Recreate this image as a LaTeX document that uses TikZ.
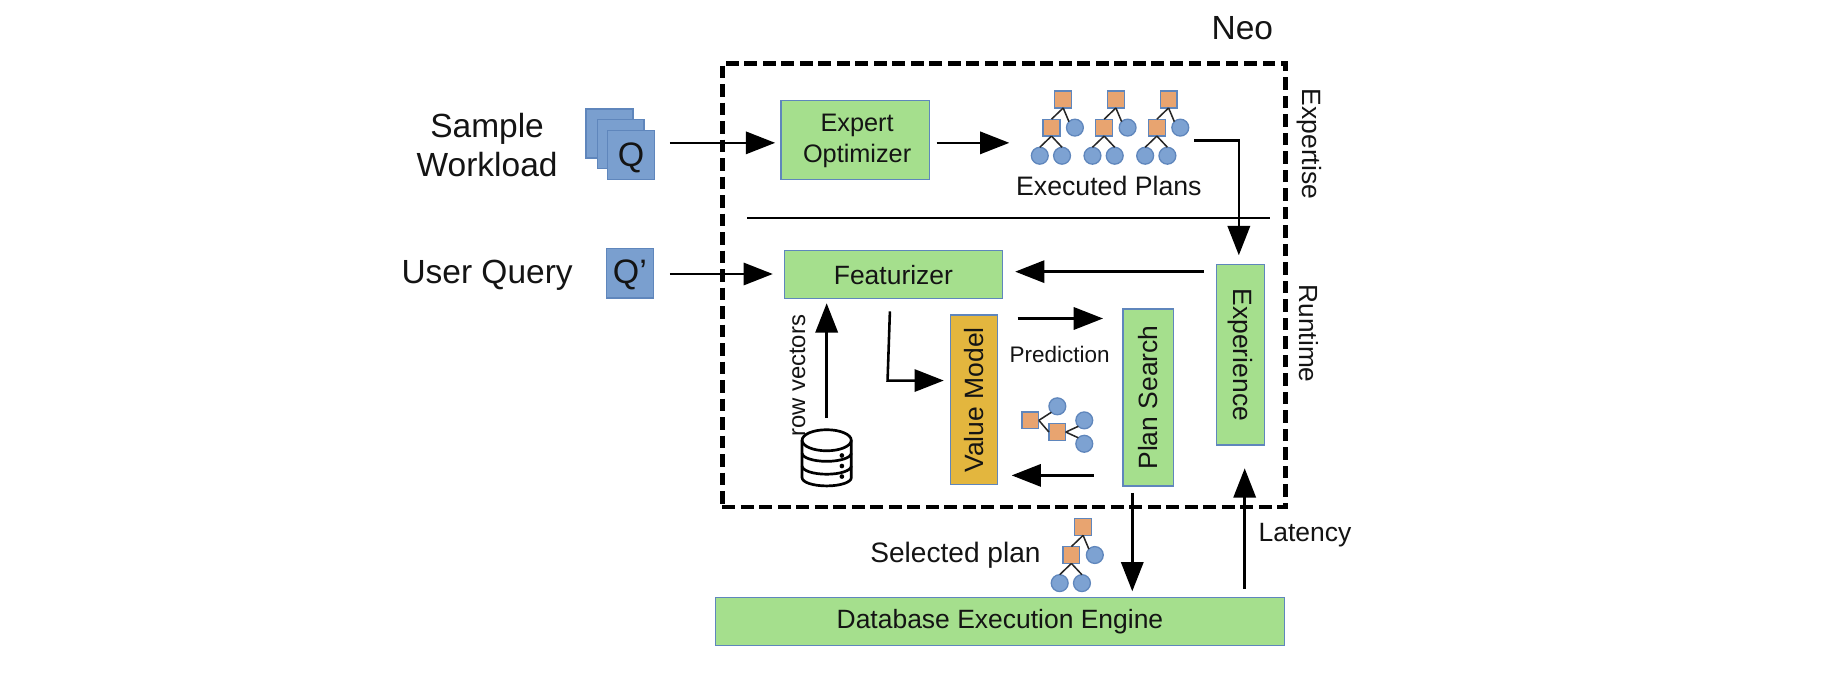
\documentclass[tikz,border=0pt]{standalone}
\usepackage{fontspec}
\setmainfont{Liberation Sans}
\usetikzlibrary{arrows.meta,calc}
\definecolor{boxgreen}{HTML}{A5DF8D}
\definecolor{edgeblue}{HTML}{5F86BC}
\definecolor{qblue}{HTML}{7A9FCF}
\definecolor{treeorange}{HTML}{E8A470}
\definecolor{treeblue}{HTML}{7DA2D2}
\definecolor{gold}{HTML}{E3B63E}
\newcommand{\fs}[1]{\fontsize{#1}{\dimexpr#1pt*115/100\relax}\selectfont}
\tikzset{
  x=0.5pt,y=-0.5pt,
  every node/.style={inner sep=0pt,outer sep=0pt,text=black!92},
  flat/.style={draw=edgeblue,line width=0.55pt,rectangle,align=center,font=\fs{11.3}},
  greenbox/.style={flat,fill=boxgreen},
  goldbox/.style={flat,fill=gold},
  qbox/.style={flat,fill=qblue,minimum width=20pt,minimum height=21pt},
  qtext/.style={font=\fs{14.5}},
  tsq/.style={draw=edgeblue,line width=0.55pt,fill=treeorange,rectangle,minimum size=7.2pt},
  tci/.style={draw=edgeblue,line width=0.55pt,fill=treeblue,circle,minimum size=7.2pt},
  tln/.style={line width=0.65pt,black!85},
  arr/.style={line width=1.1pt,black,-{Triangle[length=12.5pt,width=9.5pt]}},
  plainline/.style={line width=1.1pt,black},
  bigtext/.style={font=\fs{14.3},align=center},
  midtext/.style={font=\fs{11.5}},
  smalltext/.style={font=\fs{9.6}},
  dbline/.style={line width=1.15pt,black},
}
\newcommand{\planicon}[3]{%
  \begin{scope}[shift={(#2,#3)}]
    \node[tsq] (#1-a) at (0,0) {};
    \node[tsq] (#1-b) at (-10,24) {};
    \node[tci] (#1-c) at (10,24) {};
    \node[tci] (#1-d) at (-20,48) {};
    \node[tci] (#1-e) at (-1,48) {};
    \draw[tln] (#1-a.south) -- (#1-b.north);
    \draw[tln] (#1-a.south) -- (#1-c.north west);
    \draw[tln] (#1-b.south) -- (#1-d.north);
    \draw[tln] (#1-b.south) -- (#1-e.north);
  \end{scope}}
\begin{document}
\begin{tikzpicture}
\useasboundingbox[fill=white] (0,0) rectangle (1568,587.6);

% Neo frame
\node[draw=black,line width=2.1pt,dash pattern=on 5.4pt off 2.5pt,rectangle,minimum width=240.5pt,minimum height=189.5pt] (frame) at (857.5,243.5) {};
\node[bigtext] (neo) at (1061,24) {Neo};

% boxes
\node[greenbox,minimum width=63.5pt,minimum height=33.5pt] (expert) at (730.5,119.5) {};
\node[align=center,font=\fontsize{10.8}{13}\selectfont] (expertlabel) at (732,120.5) {Expert\\Optimizer};
\node[greenbox,minimum width=93pt,minimum height=20.5pt] (feat) at (763,234.5) {Featurizer};
\node[goldbox,minimum width=20pt,minimum height=72.5pt] (value) at (832,341.5) {\rotatebox{90}{Value Model}};
\node[greenbox,minimum width=21.5pt,minimum height=75.5pt] (search) at (980.5,339.5) {\rotatebox{90}{Plan Search}};
\node[greenbox,minimum width=20.5pt,minimum height=77pt] (exper) at (1059.5,303) {\rotatebox{-90}{Experience}};
\node[greenbox,minimum width=243pt,minimum height=20.5pt] (engine) at (854,530.5) {Database Execution Engine};

% queries
\node[qbox] (q1) at (520.5,114) {};
\node[qbox] (q2) at (530,123) {};
\node[qbox] (q3) at (539,132.5) {};
\node[qtext] (q3t) at (539,134.5) {Q};
\node[qbox] (qp) at (538,233.5) {};
\node[qtext] (qpt) at (538,234.5) {Q’};

% labels
\node[bigtext,font=\fontsize{14.3}{16.5}\selectfont] (sample) at (416,124) {Sample\\Workload};
\node[bigtext] (user) at (416,235.5) {User Query};
\node[midtext,font=\fs{11.4}] (execd) at (947,159) {Executed Plans};
\node[midtext,font=\fs{12}] (selected) at (816,474.5) {Selected plan};
\node[midtext,font=\fs{11.3}] (latency) at (1114.5,457) {Latency};
\node[smalltext] (pred) at (905,303) {Prediction};
\node[smalltext,font=\fs{10.2}] (rowv) at (681,321) {\rotatebox{90}{row vectors}};
\node[midtext,font=\fs{11.3}] (expertise) at (1118,123) {\rotatebox{-90}{Expertise}};
\node[midtext,font=\fs{11.2}] (runtime) at (1118,285) {\rotatebox{-90}{Runtime}};

% plan icons
\planicon{p1}{908}{85}
\planicon{p2}{953}{85}
\planicon{p3}{998}{85}
\planicon{p4}{925}{450}

% sideways plan icon
\node[tsq] (m1) at (880,359) {};
\node[tci] (m2) at (903,347) {};
\node[tsq] (m3) at (903,369) {};
\node[tci] (m4) at (926,359) {};
\node[tci] (m5) at (926,379) {};
\draw[tln] (m1.east) -- (m2.south west);
\draw[tln] (m1.east) -- (m3.west);
\draw[tln] (m3.east) -- (m4.south west);
\draw[tln] (m3.east) -- (m5.north west);

% database icon
\coordinate (dbc) at (706,391);
\begin{scope}[shift={(dbc)}]
  \draw[dbline] (-21,-15) -- (-21,17) arc[start angle=180,end angle=0,x radius=21,y radius=7] -- (21,-15);
  \draw[dbline] (0,-15) ellipse[x radius=21,y radius=9];
  \draw[dbline] (-21,-4) arc[start angle=180,end angle=0,x radius=21,y radius=7];
  \draw[dbline] (-21,7) arc[start angle=180,end angle=0,x radius=21,y radius=7];
  \fill (13,-2) circle (2) (13,7) circle (2) (13,16) circle (2);
\end{scope}
\coordinate (dbtop) at (706,357);
\coordinate (sepl) at (638,186);
\coordinate (sepr) at (1085,186);
\coordinate (plansout) at (1020,120);
\coordinate (plansdrop) at (1058,120);
\coordinate (featout) at (760,266);
\coordinate (featbend) at (758,325);
\coordinate (valin) at (806,325);
\coordinate (predl) at (869,272);
\coordinate (predr) at (942,272);
\coordinate (backr) at (934,406);
\coordinate (backl) at (864,406);
\coordinate (searchout) at (967,421);
\coordinate (enginein) at (967,505);
\coordinate (engineout) at (1063,503);
\coordinate (experin) at (1063,400);
\coordinate (rowtop) at (706,259);
\coordinate (q3out) at (572,122);
\coordinate (expin) at (662,122);
\coordinate (expout) at (800,122);
\coordinate (plansin) at (862,122);
\coordinate (qpout) at (572,234);
\coordinate (featin) at (660,234);
\coordinate (expfrom) at (1028,232);
\coordinate (featr) at (867,232);
\coordinate (experdrop) at (1058,218);

% connectors
\draw[arr] (q3out) -- (expin);
\draw[arr] (expout) -- (plansin);
\draw[arr] (plansout) -- (plansdrop) -- (experdrop);
\draw[plainline] (sepl) -- (sepr);
\draw[arr] (qpout) -- (featin);
\draw[arr] (expfrom) -- (featr);
\draw[arr] (dbtop) -- (rowtop);
\draw[arr] (featout) -- (featbend) -- (valin);
\draw[arr] (predl) -- (predr);
\draw[arr] (backr) -- (backl);
\draw[arr] (searchout) -- (enginein);
\draw[arr] (engineout) -- (experin);
\end{tikzpicture}
\end{document}
